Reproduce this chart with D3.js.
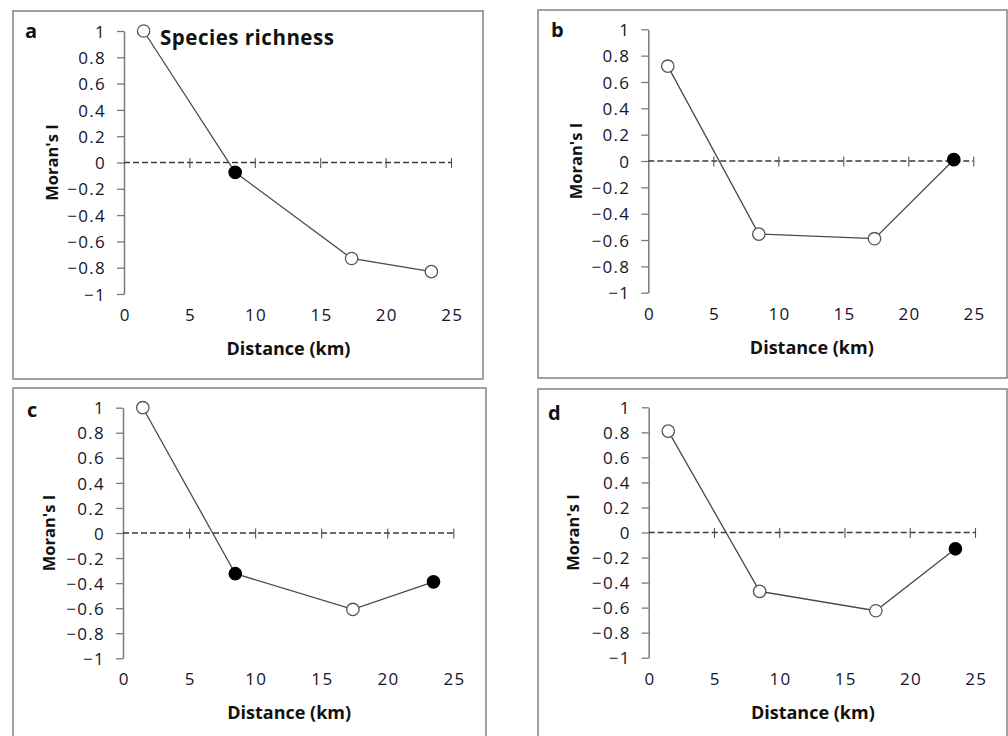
<!DOCTYPE html>
<html lang="en">
<head>
<meta charset="UTF-8">
<title>Moran's I correlograms</title>
<script src="https://d3js.org/d3.v7.min.js"></script>
<style>
  body { margin: 0; background: #fff; }
  svg { display: block; font-family: "Open Sans", sans-serif; }
  .ttl { font-weight: bold; fill: #111; }
</style>
</head>
<body>
<div id="chart"></div>
<script>
// distance classes (km)
const distances = [1.5, 8.5, 17.4, 23.5];

// Moran's I per panel
const valuesA = [1.0, -0.075, -0.73, -0.83];
const valuesB = [0.72, -0.555, -0.59, 0.01];
const valuesC = [1.0, -0.325, -0.61, -0.39];
const valuesD = [0.81, -0.47, -0.625, -0.13];

// significant (filled) markers
const sigA = [false, true, false, false];
const sigB = [false, false, false, true];
const sigC = [false, true, false, true];
const sigD = [false, false, false, true];

const xTicks = [0, 5, 10, 15, 20, 25];
const xTickLabels = ["0", "5", "10", "15", "20", "25"];
const yTicks = [1, 0.8, 0.6, 0.4, 0.2, 0, -0.2, -0.4, -0.6, -0.8, -1];
const yTickLabels = ["1", "0.8", "0.6", "0.4", "0.2", "0", "\u22120.2", "\u22120.4", "\u22120.6", "\u22120.8", "\u22121"];

const panels = [
  { letter: "a", vals: valuesA, sig: sigA, box: [13, 11, 470, 368], xr: [124, 451], yr: [31, 294], lx: 25, ly: 38, mx: 52, title: "Species richness" },
  { letter: "b", vals: valuesB, sig: sigB, box: [538, 10, 469, 368], xr: [648.3, 973.3], yr: [29.3, 292.7], lx: 551, ly: 37, mx: 576 },
  { letter: "c", vals: valuesC, sig: sigC, box: [13, 388, 473, 370], xr: [123, 453.3], yr: [407.7, 658.3], lx: 27, ly: 417, mx: 48.5 },
  { letter: "d", vals: valuesD, sig: sigD, box: [538, 389, 469, 370], xr: [648.7, 975], yr: [407.3, 657.7], lx: 548, ly: 420, mx: 573 }
];

const svg = d3.select("#chart").append("svg")
  .attr("width", 1008)
  .attr("height", 736);

function styleTicks(sel) {
  sel.attr("font-family", "'Open Sans', sans-serif").attr("font-size", 17);
  sel.selectAll(".tick text")
    .style("fill", "#14142a")
    .style("font-size", "17px")
    .style("letter-spacing", "1.3px");
}

panels.forEach(p => {
  const g = svg.append("g");

  g.append("rect")
    .attr("x", p.box[0]).attr("y", p.box[1])
    .attr("width", p.box[2]).attr("height", p.box[3])
    .attr("fill", "none").attr("stroke", "#8a8a8a").attr("stroke-width", 1.6);

  const x = d3.scaleLinear().domain([0, 25]).range(p.xr);
  const y = d3.scaleLinear().domain([1, -1]).range(p.yr);

  // y axis
  const ya = g.append("g")
    .attr("transform", `translate(${p.xr[0]},0)`)
    .call(d3.axisLeft(y).tickValues(yTicks)
      .tickFormat((d, i) => yTickLabels[i])
      .tickSizeInner(7).tickSizeOuter(0).tickPadding(11));
  ya.select(".domain").attr("stroke", "#7a7a7a").attr("stroke-width", 1.5);
  ya.selectAll(".tick line").attr("stroke", "#7a7a7a").attr("stroke-width", 1.3);
  ya.selectAll(".tick text").attr("dy", "0.36em");
  styleTicks(ya);

  // zero reference line (dashed) with small crossing ticks
  g.append("line")
    .attr("x1", p.xr[0]).attr("x2", x(25))
    .attr("y1", y(0)).attr("y2", y(0))
    .attr("stroke", "#3a3a3a").attr("stroke-width", 1.4)
    .attr("stroke-dasharray", "6,3");
  const za = g.append("g")
    .attr("transform", `translate(0,${y(0) - 4.5})`)
    .call(d3.axisBottom(x).tickValues(xTicks.slice(1)).tickFormat("").tickSize(10));
  za.select(".domain").remove();
  za.selectAll(".tick line").attr("stroke", "#555").attr("stroke-width", 1.1);

  // x tick labels at bottom
  const xa = g.append("g")
    .attr("transform", `translate(0.7,${p.yr[1]})`)
    .call(d3.axisBottom(x).tickValues(xTicks)
      .tickFormat((d, i) => xTickLabels[i]).tickSize(0).tickPadding(15));
  xa.select(".domain").remove();
  styleTicks(xa);

  // axis titles
  g.append("text").attr("class", "ttl")
    .attr("x", (p.xr[0] + p.xr[1]) / 2 + 1)
    .attr("y", p.yr[1] + 61)
    .attr("text-anchor", "middle")
    .attr("font-size", 18)
    .text("Distance (km)");

  g.append("text").attr("class", "ttl")
    .attr("transform", `translate(${p.mx + 6},${(p.yr[0] + p.yr[1]) / 2}) rotate(-90)`)
    .attr("text-anchor", "middle")
    .attr("font-size", 16.5)
    .text("Moran's I");

  g.append("text").attr("class", "ttl")
    .attr("x", p.lx).attr("y", p.ly)
    .attr("font-size", 20)
    .text(p.letter);

  if (p.title) {
    g.append("text").attr("class", "ttl")
      .attr("x", 160).attr("y", 45)
      .attr("font-size", 20.5)
      .attr("letter-spacing", 0.5)
      .text(p.title);
  }

  // series
  const pts = distances.map((d, i) => ({ d: d, v: p.vals[i], s: p.sig[i] }));
  g.append("path")
    .datum(pts)
    .attr("fill", "none")
    .attr("stroke", "#4a4a4a")
    .attr("stroke-width", 1.3)
    .attr("d", d3.line().x(d => x(d.d)).y(d => y(d.v)));

  g.selectAll("circle.pt")
    .data(pts)
    .join("circle")
    .attr("class", "pt")
    .attr("cx", d => x(d.d))
    .attr("cy", d => y(d.v))
    .attr("r", 6.2)
    .attr("fill", d => d.s ? "#000" : "#fff")
    .attr("stroke", d => d.s ? "#000" : "#555")
    .attr("stroke-width", 1.3);
});
</script>
</body>
</html>
